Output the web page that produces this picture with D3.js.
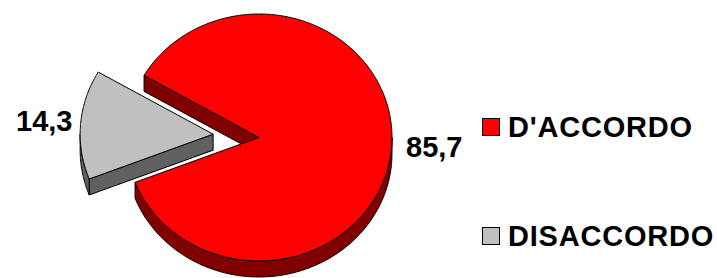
<!DOCTYPE html>
<html>
<head>
<meta charset="utf-8">
<script src="https://cdn.jsdelivr.net/npm/d3@7"></script>
<style>
  body { margin: 0; background: #fff; }
  text { font-family: "Liberation Sans", Arial, sans-serif; font-weight: bold; fill: #000; }
</style>
</head>
<body>
<svg id="chart" width="717" height="278"></svg>
<script>
var categories = ["D'ACCORDO", "DISACCORDO"];
var values = [85.7, 14.3];
var valueLabels = ["85,7", "14,3"];
var topColors = ["#ff0000", "#c0c0c0"];
var sideColors = ["#800000", "#606060"];

var cx = 259, cy = 137.5, rx = 133, ry = 123.5, depth = 16;
var explode = [0, 46];
var start = 300.2 * Math.PI / 180;

var svg = d3.select("#chart");

var pie = d3.pie().sort(null)
    .startAngle(start)
    .endAngle(start + 2 * Math.PI);
var arcs = pie(values);

function pt(ox, oy, t, dz) {
  return [ox + rx * Math.cos(t), oy + ry * Math.sin(t) + dz];
}
function arcPts(ox, oy, t0, t1, dz) {
  var n = Math.max(2, Math.ceil(Math.abs(t1 - t0) / 0.01));
  return d3.range(n + 1).map(function(i) { return pt(ox, oy, t0 + (t1 - t0) * i / n, dz); });
}
var line = d3.line();

function face(g, pts, fill) {
  g.append("path")
    .attr("d", line(pts) + "Z")
    .attr("fill", fill)
    .attr("stroke", "#000")
    .attr("stroke-width", 1)
    .attr("stroke-linejoin", "round");
}

arcs.forEach(function(d, i) {
  var t0 = d.startAngle - Math.PI / 2,
      t1 = d.endAngle - Math.PI / 2,
      tm = (t0 + t1) / 2;
  var ox = cx + explode[i] * Math.cos(tm),
      oy = cy + explode[i] * Math.sin(tm) * ry / rx;
  var g = svg.append("g").attr("class", "slice");

  // cut face on the start side
  if (Math.cos(t0) < 0) {
    var p = pt(ox, oy, t0, 0);
    face(g, [[ox, oy], p, [p[0], p[1] + depth], [ox, oy + depth]], sideColors[i]);
  }
  // cut face on the end side
  if (Math.cos(t1) > 0) {
    var q = pt(ox, oy, t1, 0);
    face(g, [[ox, oy], q, [q[0], q[1] + depth], [ox, oy + depth]], sideColors[i]);
  }
  // front rim
  for (var k = -1; k <= 2; k++) {
    var a = Math.max(t0, 2 * Math.PI * k), b = Math.min(t1, 2 * Math.PI * k + Math.PI);
    if (b > a) {
      face(g, arcPts(ox, oy, a, b, 0).concat(arcPts(ox, oy, b, a, depth)), sideColors[i]);
    }
  }
  // top
  face(g, [[ox, oy]].concat(arcPts(ox, oy, t0, t1, 0)), topColors[i]);
});

// value labels
var labelPos = [[406, 157], [16, 131]];
svg.selectAll(".val")
  .data(valueLabels)
  .enter().append("text")
    .attr("class", "val")
    .attr("x", function(d, i) { return labelPos[i][0]; })
    .attr("y", function(d, i) { return labelPos[i][1]; })
    .attr("font-size", "29px")
    .text(function(d) { return d; });

// legend
var legend = svg.selectAll(".legend")
  .data(categories)
  .enter().append("g")
    .attr("class", "legend")
    .attr("transform", function(d, i) { return "translate(482," + (118 + i * 109) + ")"; });

legend.append("rect")
  .attr("x", 0.5).attr("y", 0.5)
  .attr("width", 17).attr("height", 17)
  .attr("fill", function(d, i) { return topColors[i]; })
  .attr("stroke", "#000");

legend.append("text")
  .attr("x", 26)
  .attr("y", 19)
  .attr("font-size", "29px")
  .attr("letter-spacing", "0.8px")
  .text(function(d) { return d; });
</script>
</body>
</html>
